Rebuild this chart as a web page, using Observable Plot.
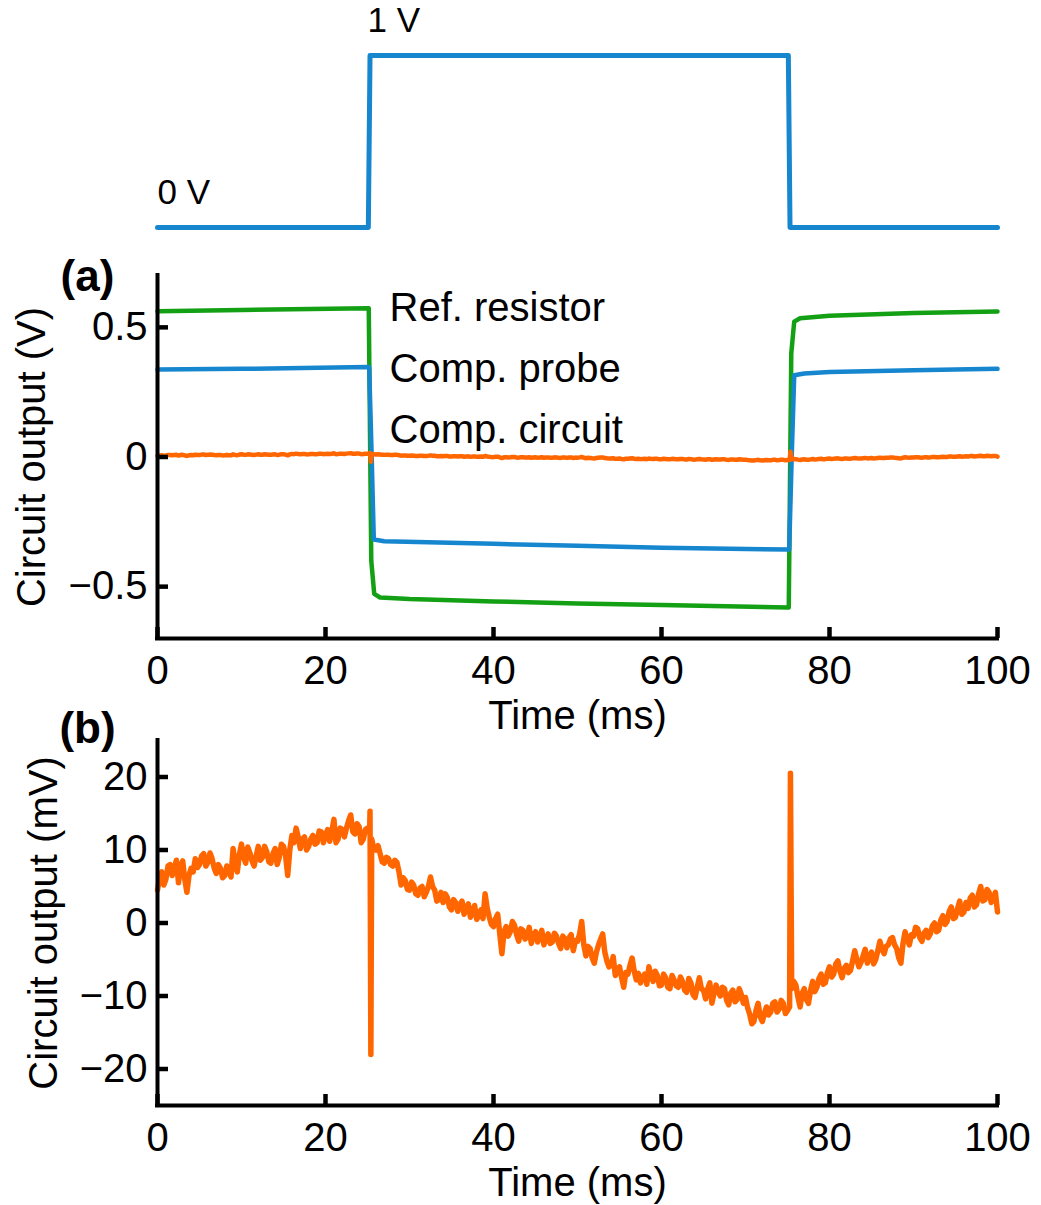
<!DOCTYPE html>
<html>
<head>
<meta charset="utf-8">
<script src="https://cdn.jsdelivr.net/npm/d3@7"></script>
<script src="https://cdn.jsdelivr.net/npm/@observablehq/plot@0.6"></script>
<style>
  body { margin: 0; background: #fff; }
  #fig { position: relative; width: 1041px; height: 1205px; background: #fff; }
  #fig > div { position: absolute; left: 0; }
</style>
</head>
<body>
<div id="fig"><div id="pTop" style="top:0px"></div><div id="pA" style="top:240px"></div><div id="pB" style="top:690px"></div></div>
<script>
// ---------------- data ----------------
// Stimulus square wave (V) vs time (ms)
const stimTime = [0, 25.1, 25.3, 75.1, 75.3, 100];
const stimVolt = [0, 0, 1, 1, 0, 0];
const stimLabelTime = [0, 25];
const stimLabelVolt = [0, 1];
const stimLabelText = ["0 V", "1 V"];

// Panel (a): Ref. resistor (V)
const refTime = [0, 10, 25, 25.15, 25.45, 25.8, 26.5, 30, 40, 50, 60, 75, 75.15, 75.45, 75.8, 76.5, 80, 90, 100];
const refVolt = [0.562, 0.567, 0.574, 0.574, -0.40, -0.528, -0.542, -0.548, -0.557, -0.565, -0.571, -0.580, -0.580, 0.40, 0.522, 0.535, 0.545, 0.555, 0.561];

// Panel (a): Comp. probe (V)
const probeTime = [0, 10, 25, 25.2, 25.5, 25.75, 27, 40, 50, 60, 75, 75.2, 75.5, 75.8, 77, 80, 90, 100];
const probeVolt = [0.337, 0.340, 0.347, 0.347, 0.0, -0.318, -0.325, -0.335, -0.342, -0.350, -0.357, -0.357, 0.0, 0.315, 0.322, 0.328, 0.335, 0.340];

// Comp. circuit output (mV), sampled every 0.25 ms from 0 to 100 ms (10 samples per row)
const compMv = [
  4.5, 6.2, 7.0, 5.2, 6.0, 7.8, 8.0, 6.5, 7.5, 8.6,
  5.5, 7.8, 8.5, 6.0, 4.2, 6.5, 7.5, 7.0, 8.8, 7.6,
  8.0, 9.2, 9.5, 7.8, 8.3, 9.6, 8.8, 7.5, 6.8, 8.0,
  7.5, 6.2, 6.5, 7.8, 7.2, 6.3, 10.2, 8.0, 7.0, 9.4,
  10.8, 9.0, 8.2, 10.4, 9.6, 8.5, 7.8, 9.2, 10.5, 8.6,
  9.0, 10.5, 9.8, 8.4, 8.2, 9.5, 10.2, 8.0, 9.0, 10.8,
  10.5, 9.2, 6.5, 10.0, 12.0, 11.0, 13.0, 11.8, 10.2, 11.5,
  11.8, 10.0, 10.5, 11.5, 12.0, 10.8, 11.0, 12.6, 12.5, 11.0,
  12.0, 12.8, 11.2, 12.5, 14.2, 11.0, 11.5, 13.0, 12.8, 11.8,
  13.0, 14.0, 14.8, 12.5, 12.2, 13.6, 13.2, 11.0, 11.5, 12.8,
  13.0, 12.5, 11.5, 10.2, 10.0, 10.6, 9.5, 8.4, 8.2, 9.0,
  8.8, 8.0, 7.8, 8.6, 8.3, 7.0, 5.2, 6.2, 5.8, 4.6,
  4.5, 5.6, 5.2, 4.0, 3.8, 4.8, 5.0, 3.6, 4.2, 5.0,
  6.3, 5.0, 4.5, 3.0, 3.2, 4.2, 2.8, 4.0, 3.5, 2.2,
  1.8, 3.2, 2.8, 1.6, 2.5, 3.0, 1.2, 2.2, 2.6, 0.8,
  1.5, 2.4, 0.5, 1.0, 1.8, 0.6, 4.0, 2.0, 0.8, -0.2,
  -0.5, 0.6, 1.2, -1.5, -4.2, -1.2, -0.5, -1.8, -1.2, 0.2,
  -0.3, -1.6, -2.5, -0.8, -1.0, -2.2, -1.8, -0.6, -2.8, -1.6,
  -1.2, -2.6, -2.0, -1.0, -3.0, -2.2, -1.5, -2.8, -2.6, -1.4,
  -1.8, -2.8, -3.5, -1.8, -2.2, -3.4, -2.0, -1.6, -3.8, -2.4,
  -2.5, -1.5, 0.2, -3.0, -4.5, -3.2, -3.5, -4.8, -5.5, -4.0,
  -3.0, -2.2, -1.5, -4.0, -5.2, -6.0, -5.8, -4.6, -7.2, -6.4,
  -6.0, -7.5, -8.8, -6.8, -7.0, -5.8, -4.8, -6.6, -7.8, -6.9,
  -8.2, -7.4, -7.0, -8.4, -6.0, -7.2, -8.0, -6.6, -7.2, -8.6,
  -8.5, -7.0, -7.5, -8.8, -9.0, -7.2, -7.8, -8.6, -8.8, -7.4,
  -8.0, -9.2, -9.5, -7.6, -8.2, -9.8, -10.2, -8.8, -7.5, -9.0,
  -9.2, -10.4, -9.0, -8.2, -11.0, -9.6, -8.5, -9.4, -10.0, -8.8,
  -9.0, -10.6, -11.2, -9.6, -9.2, -10.8, -10.5, -9.0, -9.8, -11.0,
  -10.2, -11.6, -12.5, -13.8, -13.5, -12.0, -11.0, -12.8, -13.5, -12.4,
  -11.5, -12.6, -12.2, -11.0, -10.8, -12.2, -11.8, -10.6, -11.0, -12.4,
  -12.0, -11.5, -9.0, -8.0, -8.5, -10.2, -11.5, -9.6, -9.0, -10.5,
  -11.0, -9.2, -8.0, -9.4, -8.8, -7.6, -7.0, -8.4, -8.2, -6.8,
  -6.0, -7.4, -7.0, -5.6, -5.2, -6.6, -7.5, -6.2, -5.8, -6.8,
  -6.5, -5.2, -3.8, -5.0, -6.0, -5.4, -4.5, -3.6, -5.5, -4.8,
  -4.0, -5.6, -5.0, -3.8, -2.5, -3.6, -4.2, -3.2, -3.0, -2.2,
  -2.0, -3.0, -3.5, -4.8, -5.5, -2.8, -1.2, -2.2, -3.0, -1.6,
  -1.8, -0.6, -0.8, -2.0, -2.5, -1.4, -1.0, -2.0, -1.5, -0.4,
  0.0, -1.2, -1.0, 0.4, 1.0, -0.2, 0.2, 1.6, 2.2, 0.6,
  0.8, 2.0, 3.0, 1.2, 1.5, 2.8, 2.0, 3.4, 3.8, 2.2,
  2.5, 4.0, 5.0, 3.0, 3.2, 4.6, 4.2, 2.8, 3.5, 4.2,
  1.5
];
const compStep = 0.25; // ms between samples
// Switching transients (extra samples)
const spikeTime = [25.3, 25.4, 75.35];
const spikeMv = [15.3, -18.0, 20.5];

const seriesNames = ["Ref. resistor", "Comp. probe", "Comp. circuit"];
const xTicks = [0, 20, 40, 60, 80, 100];
const yTicksA = [-0.5, 0, 0.5];
const yTickLabelsA = ["\u22120.5", "0", "0.5"];
const yTicksB = [-20, -10, 0, 10, 20];
const yTickLabelsB = ["\u221220", "\u221210", "0", "10", "20"];

// ---------------- styling ----------------
const FONT = "'Liberation Sans', Arial, Helvetica, sans-serif";
const BLUE = "#1686cf";
const GREEN = "#14a014";
const ORANGE = "#ff6600";
const FS = 40;
const TICK = 11;          // inward tick length, px
const FRAME_W = 1041 - 157 - 44;

const stim = stimTime.map((t, i) => ({t, v: stimVolt[i]}));
const stimLabels = stimLabelTime.map((t, i) => ({t, v: stimLabelVolt[i], s: stimLabelText[i]}));
const ref = refTime.map((t, i) => ({t, v: refVolt[i]}));
const probe = probeTime.map((t, i) => ({t, v: probeVolt[i]}));
const comp = compMv.map((v, i) => ({t: i * compStep, v}))
  .concat(spikeTime.map((t, i) => ({t, v: spikeMv[i]})))
  .sort((a, b) => a.t - b.t);

const common = {
  width: 1041,
  marginLeft: 157,
  marginRight: 44,
  x: {domain: [0, 100], label: null},
  style: {background: "transparent", overflow: "visible", fontFamily: FONT, color: "black"}
};

// Top stimulus
const stimPlot = Plot.plot({
  ...common,
  height: 250,
  marginTop: 55,
  marginBottom: 23,
  x: {domain: [0, 100], axis: null},
  y: {domain: [0, 1], axis: null},
  marks: [
    Plot.line(stim, {x: "t", y: "v", stroke: BLUE, strokeWidth: 5, strokeLinejoin: "round"}),
    Plot.text(stimLabels, {x: "t", y: "v", text: "s", textAnchor: "start", dy: -35, fontSize: 35})
  ]
});
document.getElementById("pTop").appendChild(stimPlot);

function panel({height, marginTop, marginBottom, yDomain, yTicks, yLabels, yTitle, yTitleDx, tag, tagDy, marks}) {
  const frameH = height - marginTop - marginBottom;
  const yTickLen = (yDomain[1] - yDomain[0]) * TICK / frameH;
  const xTickLen = 100 * TICK / FRAME_W;
  return Plot.plot({
    ...common,
    height, marginTop, marginBottom,
    y: {domain: yDomain, label: null},
    marks: [
      // tick labels
      Plot.axisX(xTicks, {tickSize: 0, tickPadding: 17, fontSize: FS, label: null}),
      Plot.axisY(yTicks, {tickSize: 0, tickPadding: 10, fontSize: FS, label: null,
        tickFormat: d => yLabels[yTicks.indexOf(d)]}),
      ...marks,
      // inward tick marks
      Plot.ruleX(xTicks, {x: d => d, y1: yDomain[0], y2: yDomain[0] + yTickLen, stroke: "black", strokeWidth: 4.5}),
      Plot.ruleY(yTicks, {y: d => d, x1: 0, x2: xTickLen, stroke: "black", strokeWidth: 4.5}),
      // axis lines
      Plot.ruleX([0], {y1: yDomain[0], y2: yDomain[1], stroke: "black", strokeWidth: 4, strokeLinecap: "square"}),
      Plot.ruleY([yDomain[0]], {x1: 0, x2: 100, stroke: "black", strokeWidth: 4, strokeLinecap: "square"}),
      Plot.text([yTitle], {text: d => d, frameAnchor: "left", dx: yTitleDx, rotate: -90, textAnchor: "middle", lineAnchor: "middle", fontSize: FS}),
      Plot.text(["Time (ms)"], {text: d => d, frameAnchor: "bottom", dy: 78, textAnchor: "middle", lineAnchor: "middle", fontSize: FS}),
      Plot.text([tag], {text: d => d, frameAnchor: "top-left", dx: -70, dy: tagDy, textAnchor: "middle", lineAnchor: "middle", fontSize: 44, fontWeight: "bold"})
    ]
  });
}

const panelA = panel({
  height: 500, marginTop: 35, marginBottom: 102,
  yDomain: [-0.7, 0.7], yTicks: yTicksA, yLabels: yTickLabelsA,
  yTitle: "Circuit output (V)", yTitleDx: -125, tag: "(a)", tagDy: 1,
  marks: [
    Plot.line(ref, {x: "t", y: "v", stroke: GREEN, strokeWidth: 4.5, strokeLinejoin: "round"}),
    Plot.line(probe, {x: "t", y: "v", stroke: BLUE, strokeWidth: 4.5, strokeLinejoin: "round"}),
    Plot.line(comp, {x: "t", y: d => d.v / 1000, stroke: ORANGE, strokeWidth: 4.5, strokeLinejoin: "round"}),
    ...seriesNames.map((name, i) => Plot.text([name], {text: d => d, frameAnchor: "top-left", dx: 232, dy: 33 + 61 * i, textAnchor: "start", lineAnchor: "middle", fontSize: FS}))
  ]
});
document.getElementById("pA").appendChild(panelA);

const panelB = panel({
  height: 515, marginTop: 50, marginBottom: 100,
  yDomain: [-25, 25], yTicks: yTicksB, yLabels: yTickLabelsB,
  yTitle: "Circuit output (mV)", yTitleDx: -113, tag: "(b)", tagDy: -12,
  marks: [
    Plot.line(comp, {x: "t", y: "v", stroke: ORANGE, strokeWidth: 5.5, strokeLinejoin: "round"})
  ]
});
document.getElementById("pB").appendChild(panelB);
</script>
</body>
</html>
